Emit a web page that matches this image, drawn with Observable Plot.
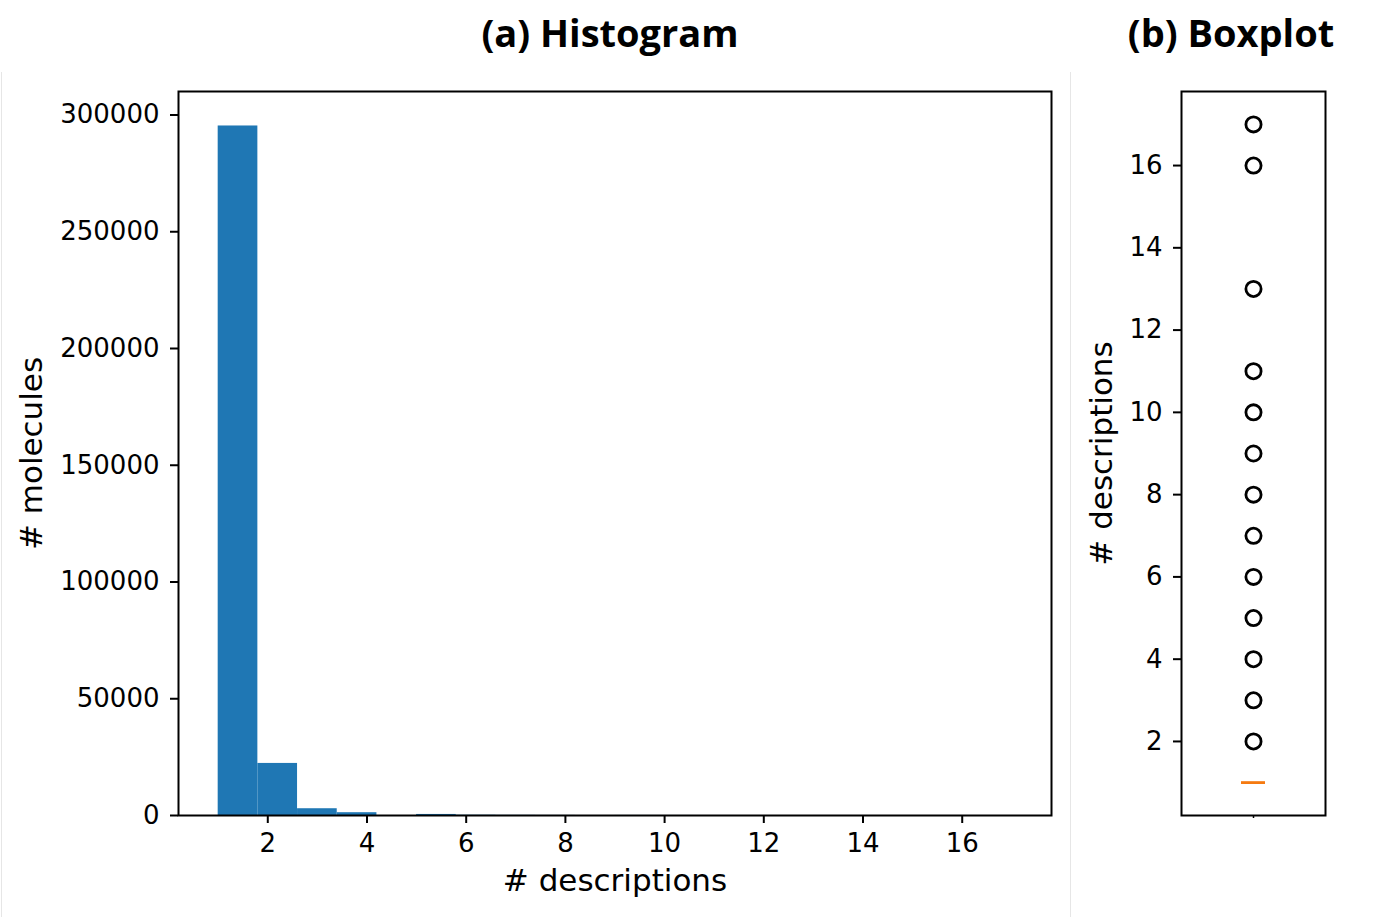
<!DOCTYPE html>
<html>
<head>
<meta charset="utf-8">
<script src="https://cdn.jsdelivr.net/npm/d3@7"></script>
<script src="https://cdn.jsdelivr.net/npm/@observablehq/plot@0.6"></script>
<style>
  html, body { margin: 0; padding: 0; background: #fff; }
  #page { position: relative; width: 1379px; height: 917px; overflow: hidden; background: #fff; }
  .title { position: absolute; top: 13px; font-family: "Open Sans", sans-serif; font-weight: 700;
           font-size: 38px; line-height: 1; white-space: nowrap; transform: translateX(-50%); color: #000; }
  .panel { position: absolute; top: 72px; }
  .sep { position: absolute; top: 72px; bottom: 0; width: 1px; background: #e6e6e6; }
</style>
</head>
<body>
<div id="page">
  <div class="title" style="left:610px">(a) Histogram</div>
  <div class="title" style="left:1231px">(b) Boxplot</div>
  <div id="hist" class="panel" style="left:0px"></div>
  <div id="box" class="panel" style="left:1072px"></div>
  <div class="sep" style="left:1px"></div>
  <div class="sep" style="left:1070px"></div>
</div>
<script>
// ---- data ----
const descriptionValues = [1, 2, 3, 4, 5, 6, 7, 8, 9, 10, 11, 12, 13, 14, 15, 16, 17];
const moleculeCounts    = [295300, 22300, 2900, 1200, 450, 120, 60, 30, 15, 10, 5, 0, 3, 0, 0, 2, 1];
const histBinCount = 20;
const histXTicks = [2, 4, 6, 8, 10, 12, 14, 16];
const histYTicks = [0, 50000, 100000, 150000, 200000, 250000, 300000];
const histXLabel = "# descriptions";
const histYLabel = "# molecules";

const boxCategory = "descriptions";
const boxMedian = [1];
const boxOutliers = [2, 3, 4, 5, 6, 7, 8, 9, 10, 11, 13, 16, 17];
const boxYTicks = [2, 4, 6, 8, 10, 12, 14, 16];
const boxYLabel = "# descriptions";

// ---- binning (numpy-style, equal width, last bin inclusive) ----
const lo = d3.min(descriptionValues), hi = d3.max(descriptionValues);
const bw = (hi - lo) / histBinCount;
const edges = d3.range(histBinCount + 1).map(i => lo + i * bw);
const bins = d3.range(histBinCount).map(i => ({x0: edges[i], x1: edges[i + 1], count: 0}));
descriptionValues.forEach((v, k) => {
  let i = bins.findIndex((b, j) => v >= b.x0 && (v < b.x1 || j === histBinCount - 1));
  if (i >= 0) bins[i].count += moleculeCounts[k];
});
const pad = 0.05 * (hi - lo);
const xDomain = [lo - pad, hi + pad];
const yMax = d3.max(bins, b => b.count) * 1.05;

const baseStyle = {fontFamily: "DejaVu Sans, sans-serif", fontSize: "26px", background: "white", overflow: "visible", color: "black"};

const hist = Plot.plot({
  width: 1068, height: 845,
  marginLeft: 178, marginRight: 17, marginTop: 19, marginBottom: 102,
  style: baseStyle,
  x: {domain: xDomain},
  y: {domain: [0, yMax]},
  marks: [
    Plot.rectY(bins, {x1: "x0", x2: "x1", y1: 0, y2: "count", fill: "#1f77b4"}),
    Plot.axisX({ticks: histXTicks, tickSize: 8, tickPadding: 10, strokeWidth: 2, label: null}),
    Plot.axisY({ticks: histYTicks, tickSize: 8, tickPadding: 11, strokeWidth: 2, label: null, tickFormat: d3.format("d")}),
    Plot.frame({stroke: "black", strokeWidth: 2}),
    Plot.text([histXLabel], {text: d => d, frameAnchor: "bottom", textAnchor: "middle", lineAnchor: "middle", dy: 66, fontSize: 31}),
    Plot.text([histYLabel], {text: d => d, frameAnchor: "left", textAnchor: "middle", lineAnchor: "middle", dx: -146.5, rotate: -90, fontSize: 31})
  ]
});
document.getElementById("hist").appendChild(hist);

const bdom = [d3.min([...boxMedian, ...boxOutliers]), d3.max([...boxMedian, ...boxOutliers])];
const bpad = 0.05 * (bdom[1] - bdom[0]);
const box = Plot.plot({
  width: 307, height: 845,
  marginLeft: 109, marginRight: 54, marginTop: 19, marginBottom: 102,
  style: baseStyle,
  x: {type: "band", domain: [boxCategory], padding: 0.714},
  y: {domain: [bdom[0] - bpad, bdom[1] + bpad]},
  marks: [
    Plot.tickY(boxMedian, {x: () => boxCategory, y: d => d, stroke: "#f57a10", strokeWidth: 2.8}),
    Plot.dot(boxOutliers, {x: () => boxCategory, y: d => d, r: 7.6, stroke: "black", strokeWidth: 2.8, fill: "none"}),
    Plot.axisX({tickSize: 3, tickFormat: () => "", strokeWidth: 1.5, label: null}),
    Plot.axisY({ticks: boxYTicks, tickSize: 8, tickPadding: 11, strokeWidth: 2, label: null}),
    Plot.frame({stroke: "black", strokeWidth: 2}),
    Plot.text([boxYLabel], {text: d => d, frameAnchor: "left", textAnchor: "middle", lineAnchor: "middle", dx: -79.5, rotate: -90, fontSize: 31})
  ]
});
document.getElementById("box").appendChild(box);
</script>
</body>
</html>
